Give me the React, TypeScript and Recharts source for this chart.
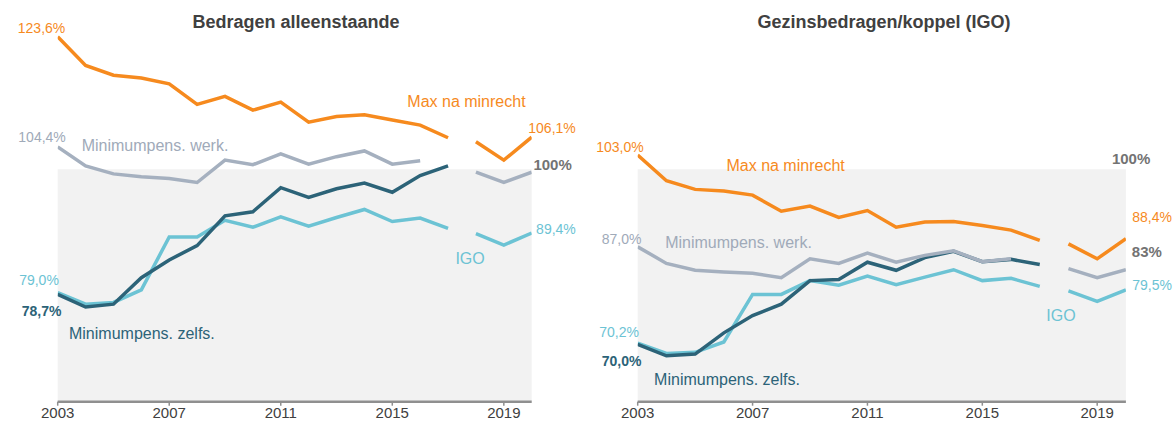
import { LineChart, Line, XAxis, YAxis, ReferenceArea, ReferenceDot } from "recharts";

const FONT = "'Liberation Sans', Arial, sans-serif";

const years = [2003, 2004, 2005, 2006, 2007, 2008, 2009, 2010, 2011, 2012, 2013, 2014, 2015, 2016, 2017, 2018, 2019, 2020];
const yearTicks = [2003, 2007, 2011, 2015, 2019];
const lastYearBeforeBreak = 2017;

// Bedragen alleenstaande
const singleMax = [123.6, 118.6, 116.9, 116.4, 115.4, 111.8, 113.2, 110.8, 112.2, 108.7, 109.7, 110.0, 109.1, 108.2, 106.0, 105.3, 102.1, 106.1];
const singleWerk = [104.4, 101.1, 99.7, 99.2, 98.9, 98.2, 102.1, 101.3, 103.2, 101.4, 102.7, 103.7, 101.4, 102.0, null, 100.0, 98.2, 100.0];
const singleZelfs = [78.7, 76.5, 77.0, 81.6, 84.7, 87.2, 92.4, 93.1, 97.3, 95.6, 97.1, 98.1, 96.5, 99.4, 101.1, null, null, null];
const singleIgo = [79.0, 77.0, 77.3, 79.5, 88.7, 88.7, 91.6, 90.4, 92.2, 90.6, 92.1, 93.5, 91.4, 92.0, 90.2, 89.3, 87.3, 89.4];

// Gezinsbedragen/koppel (IGO)
const coupleMax = [103.0, 98.5, 97.0, 96.7, 96.0, 93.2, 94.1, 92.1, 93.3, 90.4, 91.3, 91.4, 90.7, 89.9, 88.1, 87.5, 84.9, 88.4];
const coupleWerk = [87.0, 84.1, 82.9, 82.6, 82.4, 81.6, 84.9, 84.1, 85.9, 84.3, 85.5, 86.3, 84.4, 84.9, null, 83.2, 81.6, 83.0];
const coupleZelfs = [70.0, 68.0, 68.3, 72.0, 75.0, 77.0, 81.1, 81.3, 84.3, 82.9, 85.1, 86.2, 84.4, 84.8, 83.9, null, null, null];
const coupleIgo = [70.2, 68.4, 68.6, 70.4, 78.7, 78.7, 81.1, 80.3, 81.9, 80.4, 81.7, 83.0, 81.1, 81.5, 80.1, 79.3, 77.5, 79.5];

const COLORS = {
  max: "#F68A1E",
  werk: "#A5B0BF",
  zelfs: "#2C6378",
  igo: "#6CC3D4",
};

type Note = { text: string; x: number; y: number; color: string; size: number; bold?: boolean };

// annotations, placed in chart units (year, %)
const singleNotes: Note[] = [
  { text: "123,6%", x: 2002.42, y: 125.1, color: COLORS.max, size: 14 },
  { text: "Max na minrecht", x: 2017.66, y: 112.4, color: COLORS.max, size: 16 },
  { text: "106,1%", x: 2020.73, y: 107.7, color: COLORS.max, size: 14 },
  { text: "104,4%", x: 2002.44, y: 106.1, color: "#A0AAB9", size: 14 },
  { text: "Minimumpens. werk.", x: 2006.49, y: 104.6, color: "#A0AAB9", size: 16 },
  { text: "100%", x: 2020.75, y: 101.4, color: "#737373", size: 15, bold: true },
  { text: "79,0%", x: 2002.33, y: 81.2, color: COLORS.igo, size: 14 },
  { text: "78,7%", x: 2002.42, y: 75.8, color: COLORS.zelfs, size: 14, bold: true },
  { text: "Minimumpens. zelfs.", x: 2006.02, y: 71.8, color: COLORS.zelfs, size: 16 },
  { text: "IGO", x: 2017.79, y: 85.0, color: COLORS.igo, size: 16 },
  { text: "89,4%", x: 2020.87, y: 90.1, color: COLORS.igo, size: 14 },
];

const coupleNotes: Note[] = [
  { text: "103,0%", x: 2002.38, y: 104.4, color: COLORS.max, size: 14 },
  { text: "Max na minrecht", x: 2008.15, y: 101.1, color: COLORS.max, size: 16 },
  { text: "100%", x: 2020.18, y: 102.3, color: "#737373", size: 15, bold: true },
  { text: "87,0%", x: 2002.44, y: 88.4, color: "#A0AAB9", size: 14 },
  { text: "Minimumpens. werk.", x: 2006.51, y: 87.7, color: "#A0AAB9", size: 16 },
  { text: "88,4%", x: 2020.91, y: 92.1, color: COLORS.max, size: 14 },
  { text: "83%", x: 2020.73, y: 86.2, color: "#737373", size: 15, bold: true },
  { text: "79,5%", x: 2020.91, y: 80.4, color: COLORS.igo, size: 14 },
  { text: "IGO", x: 2017.74, y: 75.1, color: COLORS.igo, size: 16 },
  { text: "70,2%", x: 2002.35, y: 72.2, color: COLORS.igo, size: 14 },
  { text: "70,0%", x: 2002.44, y: 67.1, color: COLORS.zelfs, size: 14, bold: true },
  { text: "Minimumpens. zelfs.", x: 2006.11, y: 63.8, color: COLORS.zelfs, size: 16 },
];

type Series = (number | null)[];

// split every series in two pieces so the line breaks between 2017 and 2018
function toRows(max: Series, werk: Series, zelfs: Series, igo: Series) {
  return years.map((year, i) => {
    const early = year <= lastYearBeforeBreak;
    return {
      year,
      maxA: early ? max[i] : null,
      maxB: early ? null : max[i],
      werkA: early ? werk[i] : null,
      werkB: early ? null : werk[i],
      zelfsA: early ? zelfs[i] : null,
      zelfsB: early ? null : zelfs[i],
      igoA: early ? igo[i] : null,
      igoB: early ? null : igo[i],
    };
  });
}

const lineOrder: (keyof typeof COLORS)[] = ["igo", "zelfs", "werk", "max"];

function Panel({
  title,
  titleCenter,
  rows,
  notes,
  width,
  left,
  rightMargin,
}: {
  title: string;
  titleCenter: number;
  rows: ReturnType<typeof toRows>;
  notes: Note[];
  width: number;
  left: number;
  rightMargin: number;
}) {
  return (
    <div style={{ position: "absolute", left, top: 0, width, height: 421 }}>
      <LineChart
        width={width}
        height={421}
        data={rows}
        margin={{ top: 28.7, right: rightMargin, bottom: 0, left: 57.7 }}
      >
        <ReferenceArea x1={2003} x2={2020} y1={60} y2={100.5} fill="#F2F2F2" fillOpacity={1} stroke="none" />
        <XAxis
          dataKey="year"
          type="number"
          domain={[2003, 2020]}
          ticks={yearTicks}
          interval={0}
          height={19.3}
          axisLine={{ stroke: "#8F8F8F", strokeWidth: 2.5 }}
          tickLine={{ stroke: "#8F8F8F", strokeWidth: 1.5 }}
          tickSize={4}
          tick={{ fill: "#404040", fontSize: 15 }}
          allowDataOverflow
        />
        <YAxis hide type="number" domain={[60, 125]} allowDataOverflow />
        {lineOrder.flatMap((key) =>
          ["A", "B"].map((part) => (
            <Line
              key={key + part}
              type="linear"
              dataKey={key + part}
              stroke={COLORS[key]}
              strokeWidth={3.5}
              dot={false}
              activeDot={false}
              isAnimationActive={false}
            />
          ))
        )}
        {notes.map((n) => (
          <ReferenceDot
            key={n.text + n.x}
            x={n.x}
            y={n.y}
            r={0}
            ifOverflow="visible"
            shape={(p: any) => (
              <text
                x={p.cx}
                y={p.cy}
                textAnchor="middle"
                dominantBaseline="central"
                fill={n.color}
                fontSize={n.size}
                fontWeight={n.bold ? 700 : 400}
              >
                {n.text}
              </text>
            )}
          />
        ))}
      </LineChart>
      <div
        style={{
          position: "absolute",
          left: titleCenter - 200,
          width: 400,
          top: 13,
          textAlign: "center",
          fontSize: 18,
          lineHeight: 1,
          fontWeight: 700,
          color: "#404040",
        }}
      >
        {title}
      </div>
    </div>
  );
}

export default function App() {
  return (
    <div
      style={{
        position: "absolute",
        left: 0,
        top: 0,
        width: 1175,
        height: 421,
        background: "#fff",
        fontFamily: FONT,
        overflow: "hidden",
      }}
    >
      <Panel
        title="Bedragen alleenstaande"
        titleCenter={296}
        rows={toRows(singleMax, singleWerk, singleZelfs, singleIgo)}
        notes={singleNotes}
        width={580}
        left={0}
        rightMargin={48.3}
      />
      <Panel
        title="Gezinsbedragen/koppel (IGO)"
        titleCenter={304}
        rows={toRows(coupleMax, coupleWerk, coupleZelfs, coupleIgo)}
        notes={coupleNotes}
        width={595}
        left={580}
        rightMargin={49.1}
      />
    </div>
  );
}
